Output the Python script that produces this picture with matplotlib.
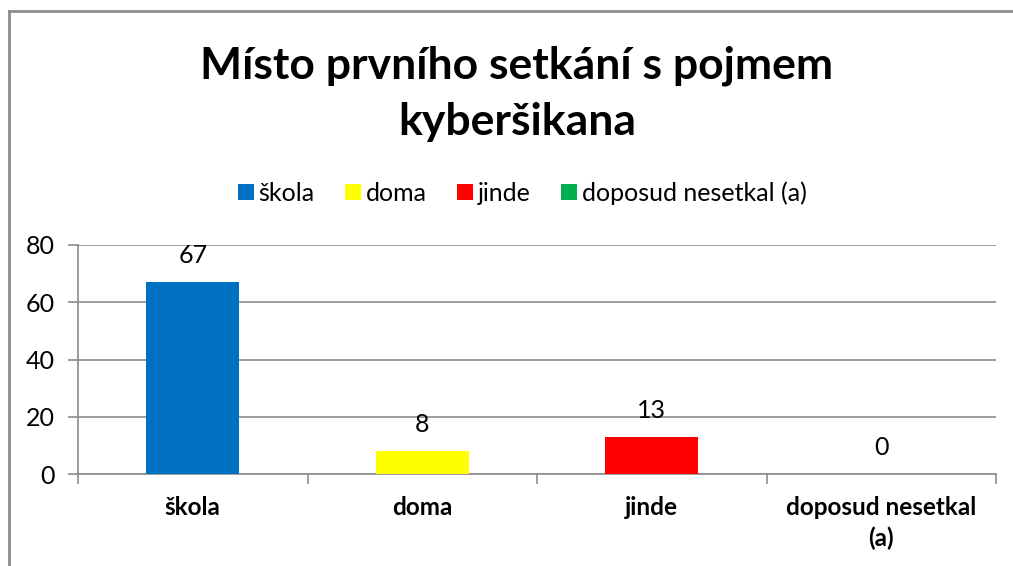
import matplotlib
matplotlib.use("Agg")
import matplotlib.pyplot as plt
from matplotlib.patches import Patch
from matplotlib.lines import Line2D

categories = ["škola", "doma", "jinde", "doposud nesetkal (a)"]
tick_labels = ["škola", "doma", "jinde", "doposud nesetkal\n(a)"]
values = [67, 8, 13, 0]
colors = ["#0070C0", "#FFFF00", "#FF0000", "#00B050"]
title = "Místo prvního setkání s pojmem\nkyberšikana"

plt.rcParams['font.family'] = ['Lato', 'DejaVu Sans']

W, H = 1013, 566
fig = plt.figure(figsize=(W / 100, H / 100), dpi=100)

# chart border (partially visible)
fig.add_artist(Line2D([9 / W, 9 / W], [0, 1 - 11 / H], color="#8c8c8c", lw=2, transform=fig.transFigure))
fig.add_artist(Line2D([9 / W, 1], [1 - 11 / H, 1 - 11 / H], color="#8c8c8c", lw=2, transform=fig.transFigure))

left, right, top, bottom = 78, 996, 245, 474
ax = fig.add_axes([left / W, 1 - bottom / H, (right - left) / W, (bottom - top) / H])

x = list(range(len(categories)))
ax.bar(x, values, width=0.405, color=colors, zorder=3)
for xi, v in zip(x, values):
    ax.annotate(str(v), (xi, v), xytext=(0, 11), textcoords="offset points",
                ha="center", va="bottom", fontsize=18, color="black")

ax.set_xlim(-0.5, len(categories) - 0.5)
ax.set_ylim(0, 80)
ax.set_yticks([0, 20, 40, 60, 80])
ax.grid(axis="y", color="#8c8c8c", lw=1.2, zorder=0)
ax.set_axisbelow(True)

ax.set_xticks(x)
ax.set_xticklabels(tick_labels, fontsize=17.5, fontweight="bold", linespacing=1.35)
ax.tick_params(axis="x", length=0, pad=16)
ax.set_xticks([i - 0.5 for i in range(len(categories) + 1)], minor=True)
ax.tick_params(axis="x", which="minor", length=7, color="#8c8c8c", width=1.2)
ax.tick_params(axis="y", length=7, color="#8c8c8c", width=1.2, labelsize=18, pad=10)

for s in ["top", "right"]:
    ax.spines[s].set_visible(False)
ax.spines["left"].set_color("#8c8c8c")
ax.spines["bottom"].set_color("#8c8c8c")
ax.spines["left"].set_linewidth(1.2)
ax.spines["bottom"].set_linewidth(1.2)

fig.text(517 / W, 1 - 94 / H, title, ha="center", va="center", fontsize=32,
         fontweight="bold", linespacing=1.5)

handles = [Patch(facecolor=c, edgecolor="none") for c in colors]
fig.legend(handles, categories, loc="center", bbox_to_anchor=(522 / W, 1 - 193 / H),
           ncol=4, frameon=False, fontsize=18, handlelength=0.64, handleheight=0.64,
           handletextpad=0.2, columnspacing=1.2)

fig.savefig("out.png", dpi=100)
